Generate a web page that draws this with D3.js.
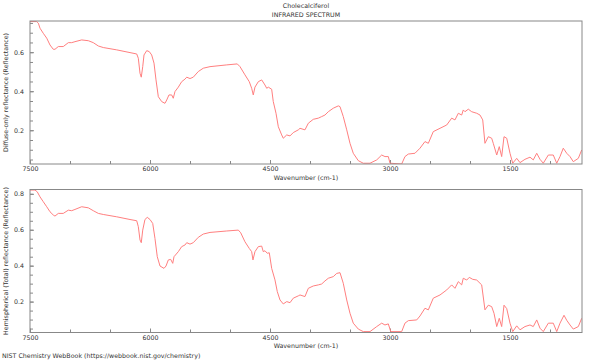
<!DOCTYPE html>
<html><head><meta charset="utf-8">
<script src="https://cdn.jsdelivr.net/npm/d3@7"></script>
<style>
body{margin:0;background:#fff}
svg{display:block}
text{font-family:"DejaVu Sans",sans-serif;fill:#333}
</style>
</head><body>
<svg id="chart" width="600" height="360"></svg>
<script>
// ---- data ----
const titleLines = ["Cholecalciferol", "INFRARED SPECTRUM"];
const xLabel = "Wavenumber (cm-1)";
const footer = "NIST Chemistry WebBook (https://webbook.nist.gov/chemistry)";
const yLabelDiffuse = "Diffuse-only reflectance (Reflectance)";
const yLabelTotal = "Hemispherical (Total) reflectance (Reflectance)";

const wnDiffuse = [7500,7416,7396,7375,7334,7291,7250,7209,7188,7146,7084,7021,6979,6938,6854,6771,6709,6646,6584,6416,6250,6166,6146,6125,6109,6091,6075,6041,6009,5979,5950,5925,5896,5854,5813,5791,5763,5729,5709,5688,5646,5604,5563,5541,5500,5459,5396,5334,5250,5041,4909,4875,4813,4759,4729,4709,4688,4646,4604,4563,4541,4521,4479,4459,4425,4396,4354,4334,4291,4250,4209,4146,4125,4063,4021,3959,3896,3854,3813,3771,3709,3646,3625,3584,3541,3500,3459,3396,3334,3250,3166,3104,3063,3021,3000,2854,2813,2771,2688,2625,2563,2521,2459,2375,2291,2229,2188,2146,2104,2084,2063,2021,1979,1916,1875,1841,1813,1771,1729,1709,1666,1634,1604,1575,1541,1500,1466,1416,1375,1313,1250,1209,1166,1125,1084,1021,959,916,875,834,791,750,709,646,604];
const rDiffuse = [0.757,0.757,0.749,0.723,0.697,0.672,0.637,0.615,0.615,0.629,0.629,0.649,0.649,0.654,0.663,0.659,0.649,0.632,0.624,0.612,0.598,0.591,0.569,0.492,0.472,0.526,0.586,0.608,0.603,0.586,0.544,0.458,0.372,0.347,0.338,0.355,0.381,0.381,0.364,0.398,0.421,0.449,0.462,0.472,0.465,0.472,0.501,0.518,0.526,0.535,0.540,0.526,0.484,0.449,0.415,0.381,0.421,0.449,0.458,0.432,0.415,0.421,0.410,0.347,0.287,0.218,0.176,0.159,0.176,0.171,0.188,0.202,0.210,0.202,0.236,0.256,0.262,0.270,0.278,0.295,0.313,0.325,0.321,0.270,0.202,0.133,0.082,0.044,0.031,0.031,0.048,0.073,0.065,0.065,0.031,0.027,0.065,0.078,0.082,0.108,0.142,0.133,0.193,0.210,0.227,0.262,0.253,0.287,0.278,0.304,0.295,0.308,0.295,0.287,0.278,0.253,0.133,0.167,0.159,0.133,0.073,0.116,0.065,0.167,0.159,0.082,0.031,0.056,0.034,0.051,0.062,0.048,0.082,0.051,0.031,0.073,0.073,0.031,0.065,0.108,0.082,0.065,0.039,0.056,0.099];

const wnTotal = [7500,7438,7409,7375,7334,7291,7250,7209,7188,7146,7084,7021,6979,6938,6854,6771,6709,6646,6584,6416,6250,6166,6146,6125,6109,6091,6063,6034,6000,5966,5938,5909,5875,5825,5800,5771,5741,5716,5700,5646,5604,5563,5541,5500,5459,5396,5334,5250,5041,4896,4866,4813,4759,4729,4713,4688,4646,4604,4584,4563,4534,4509,4479,4438,4409,4375,4334,4291,4250,4209,4146,4125,4063,4021,3959,3896,3854,3813,3771,3709,3666,3625,3584,3541,3500,3459,3396,3334,3250,3166,3104,3063,3021,2991,2854,2813,2771,2666,2625,2563,2521,2459,2375,2291,2229,2188,2146,2104,2084,2041,2009,1966,1916,1854,1813,1771,1729,1700,1666,1634,1604,1575,1541,1500,1466,1416,1375,1313,1250,1209,1166,1125,1084,1021,959,916,875,825,791,750,709,646,604];
const rTotal = [0.821,0.821,0.811,0.783,0.756,0.728,0.700,0.682,0.676,0.691,0.691,0.709,0.706,0.713,0.728,0.722,0.706,0.691,0.685,0.672,0.657,0.650,0.617,0.543,0.528,0.598,0.657,0.669,0.657,0.635,0.552,0.450,0.398,0.385,0.398,0.432,0.435,0.413,0.450,0.478,0.506,0.515,0.528,0.520,0.528,0.558,0.576,0.585,0.593,0.598,0.583,0.533,0.496,0.478,0.432,0.478,0.506,0.509,0.478,0.483,0.469,0.472,0.385,0.321,0.256,0.209,0.187,0.200,0.194,0.219,0.232,0.237,0.228,0.274,0.287,0.293,0.298,0.315,0.330,0.339,0.357,0.361,0.302,0.209,0.135,0.080,0.047,0.033,0.033,0.061,0.080,0.070,0.076,0.033,0.033,0.080,0.094,0.098,0.120,0.163,0.154,0.219,0.237,0.265,0.293,0.274,0.311,0.293,0.330,0.320,0.335,0.324,0.320,0.293,0.154,0.180,0.172,0.135,0.061,0.107,0.061,0.180,0.161,0.080,0.033,0.065,0.043,0.061,0.070,0.061,0.098,0.052,0.033,0.080,0.080,0.033,0.080,0.124,0.096,0.070,0.047,0.061,0.107];

const xDomain = [7500, 600];
const xMajorTicks = [7500, 6000, 4500, 3000, 1500];
const xMinorTicks = [7500,7000,6500,6000,5500,5000,4500,4000,3500,3000,2500,2000,1500,1000];
const yDomainDiffuse = [0.027, 0.76];
const yDomainTotal = [0.028, 0.824];
const yMajorDiffuse = [0.2, 0.4, 0.6];
const yMinorDiffuse = [0.05,0.1,0.15,0.2,0.25,0.3,0.35,0.4,0.45,0.5,0.55,0.6,0.65,0.7,0.75];
const yMajorTotal = [0.2, 0.4, 0.6, 0.8];
const yMinorTotal = [0.05,0.1,0.15,0.2,0.25,0.3,0.35,0.4,0.45,0.5,0.55,0.6,0.65,0.7,0.75,0.8];

// ---- layout ----
const svg = d3.select("#chart");
const L = 30, R = 582, FS = 6.3;
const lineColor = "#ff7f7f", frameColor = "#888";

const x = d3.scaleLinear().domain(xDomain).range([L, R]);

svg.append("text").attr("x", (L+R)/2).attr("y", 8).attr("text-anchor","middle")
  .style("font-size", FS+"px").text(titleLines[0]);
svg.append("text").attr("x", (L+R)/2).attr("y", 16.5).attr("text-anchor","middle")
  .style("font-size", FS+"px").text(titleLines[1]);

function panel(id, top, bottom, wn, vals, yDom, yMaj, yMin, yLab) {
  const y = d3.scaleLinear().domain(yDom).range([bottom, top]);
  const g = svg.append("g");
  g.append("clipPath").attr("id", id).append("rect")
    .attr("x", L).attr("y", top).attr("width", R-L).attr("height", bottom-top);

  // minor ticks
  g.append("g").attr("transform", `translate(0,${bottom})`)
    .call(d3.axisBottom(x).tickValues(xMinorTicks).tickSize(-3).tickFormat(""))
    .call(s => { s.select(".domain").remove(); s.selectAll("line").attr("stroke", frameColor); });
  g.append("g").attr("transform", `translate(${L},0)`)
    .call(d3.axisLeft(y).tickValues(yMin).tickSize(-3).tickFormat(""))
    .call(s => { s.select(".domain").remove(); s.selectAll("line").attr("stroke", frameColor); });
  // major ticks + labels
  g.append("g").attr("transform", `translate(0,${bottom})`)
    .call(d3.axisBottom(x).tickValues(xMajorTicks).tickSize(-4).tickPadding(3).tickFormat(d3.format("d")))
    .call(s => { s.select(".domain").remove(); s.selectAll("line").attr("stroke", frameColor);
      s.selectAll("text").style("font-size", FS+"px").style("font-family", '"DejaVu Sans",sans-serif').attr("fill","#333"); });
  g.append("g").attr("transform", `translate(${L},0)`)
    .call(d3.axisLeft(y).tickValues(yMaj).tickSize(-4).tickPadding(6).tickFormat(d3.format(".1f")))
    .call(s => { s.select(".domain").remove(); s.selectAll("line").attr("stroke", frameColor);
      s.selectAll("text").style("font-size", FS+"px").style("font-family", '"DejaVu Sans",sans-serif').attr("fill","#333"); });

  // spectrum
  const data = wn.map((w, i) => [w, vals[i]]);
  g.append("path").datum(data).attr("clip-path", `url(#${id})`)
    .attr("fill", "none").attr("stroke", lineColor).attr("stroke-width", 1)
    .attr("d", d3.line().x(d => x(d[0])).y(d => y(d[1])));

  // frame
  g.append("rect").attr("x", L).attr("y", top).attr("width", R-L).attr("height", bottom-top)
    .attr("fill", "none").attr("stroke", frameColor).attr("stroke-width", 1);

  // labels
  g.append("text").attr("x", (L+R)/2).attr("y", bottom + 15.5).attr("text-anchor", "middle")
    .style("font-size", FS+"px").text(xLabel);
  g.append("text").attr("transform", `translate(8,${(top+bottom)/2}) rotate(-90)`)
    .attr("text-anchor", "middle").style("font-size", FS+"px").text(yLab);
}

panel("clipA", 21, 164, wnDiffuse, rDiffuse, yDomainDiffuse, yMajorDiffuse, yMinorDiffuse, yLabelDiffuse);
panel("clipB", 189.5, 332.5, wnTotal, rTotal, yDomainTotal, yMajorTotal, yMinorTotal, yLabelTotal);

svg.append("text").attr("x", 2).attr("y", 357.5).style("font-size", FS+"px").text(footer);
</script>
</body></html>
